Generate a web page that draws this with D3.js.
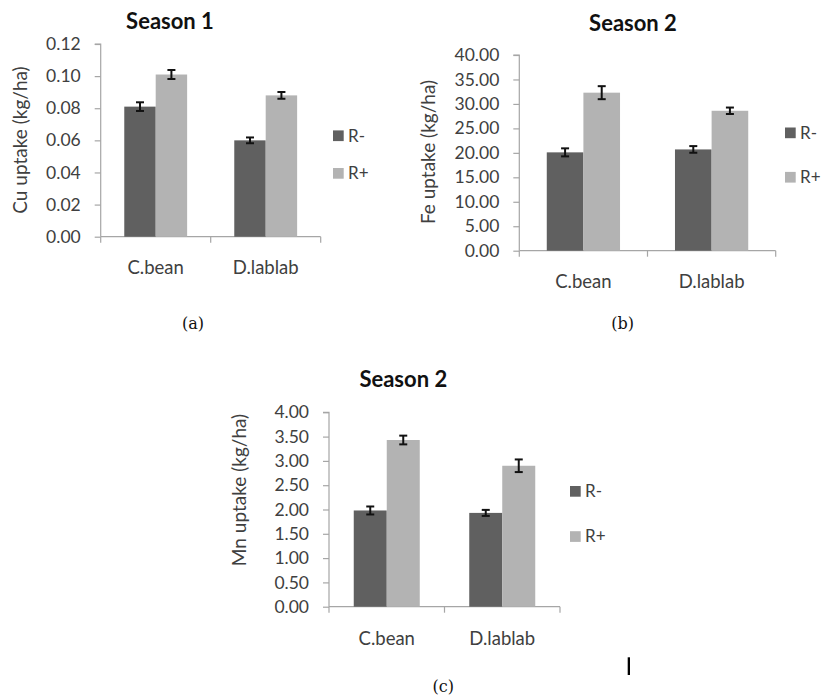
<!DOCTYPE html>
<html><head><meta charset="utf-8">
<script src="https://cdn.jsdelivr.net/npm/d3@7"></script>
<style>
html,body{margin:0;padding:0;background:#fff;}
svg{display:block;}
</style></head>
<body>
<script>
// ---- data ----
const categories = ["C.bean", "D.lablab"];
const seriesNames = ["R-", "R+"];
const cuValues = [[0.081, 0.101], [0.060, 0.088]];   // [category][series]
const cuErrors = [[0.0027, 0.0028], [0.0018, 0.0021]];
const feValues = [[20.1, 32.3], [20.7, 28.6]];
const feErrors = [[0.82, 1.33], [0.68, 0.66]];
const mnValues = [[1.98, 3.43], [1.93, 2.90]];
const mnErrors = [[0.082, 0.09], [0.062, 0.13]];
const cuTicks = [0, 0.02, 0.04, 0.06, 0.08, 0.10, 0.12];
const feTicks = [0, 5, 10, 15, 20, 25, 30, 35, 40];
const mnTicks = [0, 0.5, 1, 1.5, 2, 2.5, 3, 3.5, 4];
const titles = ["Season 1", "Season 2", "Season 2"];
const yLabels = ["Cu uptake (kg/ha)", "Fe uptake (kg/ha)", "Mn uptake (kg/ha)"];
const captions = ["(a)", "(b)", "(c)"];

const colors = ["#606060", "#b3b3b3"];
const textCol = "#404040";
const axisCol = "#a6a6a6";
const font = "Lato, 'Open Sans', sans-serif";

const svg = d3.select("body").append("svg").attr("width", 821).attr("height", 697);

const panels = [
  {values: cuValues, errors: cuErrors, ticks: cuTicks, max: 0.12, x0: 100.7, x1: 320.7, yT: 44, yB: 236.7,
   legX: 333, legY: [135.7, 173.3], titleX: 170, titleY: 28.5, ylX: 20, ylY: 140, xlY: 274, capX: 193, capY: 328.5},
  {values: feValues, errors: feErrors, ticks: feTicks, max: 40, x0: 519.3, x1: 775.7, yT: 55, yB: 250.7,
   legX: 785, legY: [132.8, 177.2], titleX: 633, titleY: 30.5, ylX: 428, ylY: 152, xlY: 288, capX: 622.7, capY: 328.5},
  {values: mnValues, errors: mnErrors, ticks: mnTicks, max: 4, x0: 329, x1: 560, yT: 412.3, yB: 606.7,
   legX: 570, legY: [491.3, 536.5], titleX: 403.3, titleY: 386.5, ylX: 239.3, ylY: 490, xlY: 645, capX: 443.3, capY: 692}
];

panels.forEach((p, i) => {
  const g = svg.append("g");
  const y = d3.scaleLinear().domain([0, p.max]).range([p.yB, p.yT]);
  const x = d3.scaleBand().domain(categories).range([p.x0, p.x1]).paddingInner(0).paddingOuter(0);
  const bw = x.bandwidth() / 3.5;
  const xs = d3.scaleBand().domain(seriesNames).range([0.75 * bw, 2.75 * bw]);
  const fmt = d3.format(".2f");

  // y axis
  const yAxis = d3.axisLeft(y).tickValues(p.ticks).tickFormat(fmt).tickSize(6).tickPadding(14);
  const ya = g.append("g").attr("transform", `translate(${p.x0},0)`).call(yAxis);
  ya.select(".domain").attr("stroke", axisCol).attr("stroke-width", 1.2).attr("d", `M-6,${p.yT}H0V${p.yB}`);
  ya.selectAll(".tick line").attr("stroke", axisCol).attr("stroke-width", 1.2);
  ya.selectAll(".tick text").attr("fill", textCol).style("font-family", font).style("font-size", "17.5px");

  // x axis
  const xAxis = d3.axisBottom(x).tickValues([]).tickSize(0);
  const xa = g.append("g").attr("transform", `translate(0,${p.yB})`).call(xAxis);
  xa.select(".domain").attr("stroke", axisCol).attr("stroke-width", 1.2).attr("d", `M${p.x0},0H${p.x1}`);
  const bounds = [p.x0, ...categories.map(c => x(c) + x.bandwidth())];
  xa.selectAll("line.sep").data(bounds).join("line").attr("class", "sep")
    .attr("x1", d => d).attr("x2", d => d).attr("y1", 0).attr("y2", 6)
    .attr("stroke", axisCol).attr("stroke-width", 1.2);
  g.selectAll("text.xl").data(categories).join("text").attr("class", "xl")
    .attr("x", d => x(d) + x.bandwidth() / 2).attr("y", p.xlY)
    .attr("text-anchor", "middle").attr("fill", textCol)
    .style("font-family", font).style("font-size", "18.5px").text(d => d);

  // bars
  categories.forEach((c, ci) => {
    seriesNames.forEach((s, si) => {
      const v = p.values[ci][si], e = p.errors[ci][si];
      const bx = x(c) + xs(s);
      g.append("rect").attr("x", bx).attr("y", y(v)).attr("width", xs.bandwidth()).attr("height", y(0) - y(v))
        .attr("fill", colors[si]);
      const cx = bx + xs.bandwidth() / 2;
      const eg = g.append("g").attr("stroke", "#111").attr("stroke-width", 2);
      eg.append("line").attr("x1", cx).attr("x2", cx).attr("y1", y(v + e)).attr("y2", y(v - e));
      eg.append("line").attr("x1", cx - 4).attr("x2", cx + 4).attr("y1", y(v + e)).attr("y2", y(v + e));
      eg.append("line").attr("x1", cx - 4).attr("x2", cx + 4).attr("y1", y(v - e)).attr("y2", y(v - e));
    });
  });
  // legend
  seriesNames.forEach((s, si) => {
    g.append("rect").attr("x", p.legX).attr("y", p.legY[si] - 5.3).attr("width", 10.7).attr("height", 10.7).attr("fill", colors[si]);
    g.append("text").attr("x", p.legX + 15).attr("y", p.legY[si]).attr("dy", "0.35em").attr("fill", textCol)
      .style("font-family", font).style("font-size", "17px").text(s);
  });

  // title
  g.append("text").attr("x", p.titleX).attr("y", p.titleY).attr("text-anchor", "middle")
    .attr("fill", "#111").style("font-family", font).style("font-weight", "bold").style("font-size", "22px").text(titles[i]);
  // y label
  g.append("text").attr("transform", `translate(${p.ylX},${p.ylY}) rotate(-90)`).attr("text-anchor", "middle")
    .attr("dy", "0.35em").attr("fill", textCol).style("font-family", font).style("font-size", "19px").text(yLabels[i]);
  // caption
  g.append("text").attr("x", p.capX).attr("y", p.capY).attr("text-anchor", "middle")
    .attr("fill", "#111").style("font-family", "'DejaVu Serif', 'Liberation Serif', serif").style("font-size", "16px").text(captions[i]);
});

// stray cursor mark in the original image
svg.append("rect").attr("x", 627.7).attr("y", 657.3).attr("width", 2.3).attr("height", 17.7).attr("fill", "#000");
</script>
</body></html>
